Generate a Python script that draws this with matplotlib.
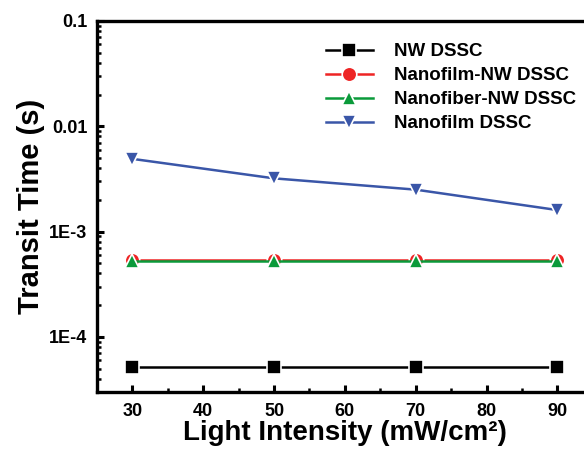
import numpy as np
import matplotlib
matplotlib.use("Agg")
import matplotlib.pyplot as plt
from matplotlib.ticker import LogLocator, FixedLocator, FuncFormatter

plt.rcParams['font.family'] = ['Liberation Sans', 'DejaVu Sans']
plt.rcParams['font.weight'] = 'bold'

intensity = [30, 50, 70, 90]
nw = [5.2e-5, 5.2e-5, 5.2e-5, 5.2e-5]
film_nw = [5.4e-4, 5.4e-4, 5.4e-4, 5.4e-4]
fiber_nw = [5.2e-4, 5.2e-4, 5.2e-4, 5.2e-4]
film = [4.9e-3, 3.2e-3, 2.5e-3, 1.6e-3]

labels = ['NW DSSC', 'Nanofilm-NW DSSC', 'Nanofiber-NW DSSC', 'Nanofilm DSSC']
colors = ['#000000', '#ee2424', '#0a9a3a', '#3a56a8']
markers = ['s', 'o', '^', 'v']

fig = plt.figure(figsize=(5.84, 4.51), dpi=100)
ax = fig.add_axes([0.166, 0.131, 0.849, 0.8226])

for ys, lab, c, m in zip([nw, film_nw, fiber_nw, film], labels, colors, markers):
    ax.plot(intensity, ys, color=c, marker=m, markersize=10.5, lw=1.8,
            markeredgecolor='white', markeredgewidth=1.2, markerfacecolor=c,
            label=lab)

ax.set_yscale('log')
ax.set_ylim(3e-5, 0.1)
ax.set_xlim(25, 95)
ax.xaxis.set_major_locator(FixedLocator([30, 40, 50, 60, 70, 80, 90]))
ax.xaxis.set_minor_locator(FixedLocator([35, 45, 55, 65, 75, 85]))
ax.yaxis.set_major_locator(LogLocator(base=10, numticks=10))
ax.yaxis.set_minor_locator(LogLocator(base=10, subs=np.arange(2, 10), numticks=10))

ylab = {1e-4: '1E-4', 1e-3: '1E-3', 1e-2: '0.01', 1e-1: '0.1'}
ax.yaxis.set_major_formatter(FuncFormatter(lambda v, p: ylab.get(float('%.0e' % v), '')))

for s in ax.spines.values():
    s.set_linewidth(2.4)
ax.tick_params(which='major', direction='in', length=5, width=2.2, labelsize=13)
ax.tick_params(which='minor', direction='in', length=3, width=1.8)
ax.tick_params(axis='x', pad=8)
ax.tick_params(axis='y', pad=7)

ax.set_xlabel('Light Intensity (mW/cm²)', fontsize=20, fontweight='bold', labelpad=0)
ax.set_ylabel('Transit Time (s)', fontsize=21, fontweight='bold', labelpad=3)

leg = ax.legend(loc='upper left', bbox_to_anchor=(0.428, 0.985), frameon=False,
                fontsize=13.5, handlelength=2.5, labelspacing=0.36, handletextpad=1.1)

fig.savefig('out.png', dpi=100)
